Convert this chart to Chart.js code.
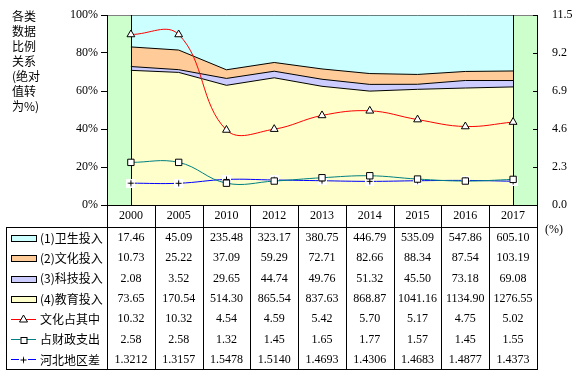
<!DOCTYPE html>
<html>
<head>
<meta charset="utf-8">
<script src="https://cdn.jsdelivr.net/npm/chart.js@4.4.0/dist/chart.umd.min.js"></script>
<style>
  html, body { margin: 0; padding: 0; background: #fff; }
  canvas { display: block; }
</style>
</head>
<body>
<canvas id="chart" width="577" height="376"></canvas>
<script>
const years = ['2000', '2005', '2010', '2012', '2013', '2014', '2015', '2016', '2017'];
const health = [17.46, 45.09, 235.48, 323.17, 380.75, 446.79, 535.09, 547.86, 605.10];
const culture = [10.73, 25.22, 37.09, 59.29, 72.71, 82.66, 88.34, 87.54, 103.19];
const tech = [2.08, 3.52, 29.65, 44.74, 49.76, 51.32, 45.50, 73.18, 69.08];
const education = [73.65, 170.54, 514.30, 865.54, 837.63, 868.87, 1041.16, 1134.90, 1276.55];
const cultureShare = [10.32, 10.32, 4.54, 4.59, 5.42, 5.70, 5.17, 4.75, 5.02];
const fiscalShare = [2.58, 2.58, 1.32, 1.45, 1.65, 1.77, 1.57, 1.45, 1.55];
const regionGap = [1.3212, 1.3157, 1.5478, 1.5140, 1.4693, 1.4306, 1.4683, 1.4877, 1.4373];
const leftTicks = [0, 20, 40, 60, 80, 100];
const rightTicks = [0, 2.3, 4.6, 6.9, 9.2, 11.5];
const titleLines = ['各类', '数据', '比例', '关系', '(绝对', '值转', '为%)'];

// stacked areas show each part as a share of the yearly total
const totals = years.map((_, i) => health[i] + culture[i] + tech[i] + education[i]);
const share = arr => arr.map((v, i) => v / totals[i] * 100);

const serif = '"Liberation Serif", "Times New Roman", serif';
const cjk = '"Noto Sans CJK SC", sans-serif';

function plusMarker() {
  const c = document.createElement('canvas');
  c.width = 9; c.height = 9;
  const g = c.getContext('2d');
  g.fillStyle = '#fff';
  g.fillRect(0, 0, 9, 9);
  g.strokeStyle = '#000';
  g.lineWidth = 1;
  g.beginPath();
  g.moveTo(4.5, 1.5); g.lineTo(4.5, 7.5);
  g.moveTo(1.5, 4.5); g.lineTo(7.5, 4.5);
  g.stroke();
  return c;
}
const plusImg = plusMarker();

const rows = [
  { label: '(1)卫生投入', values: health, digits: 2, kind: 'box', color: '#ccffff' },
  { label: '(2)文化投入', values: culture, digits: 2, kind: 'box', color: '#ffcc99' },
  { label: '(3)科技投入', values: tech, digits: 2, kind: 'box', color: '#ccccff' },
  { label: '(4)教育投入', values: education, digits: 2, kind: 'box', color: '#ffffcc' },
  { label: '文化占其中', values: cultureShare, digits: 2, kind: 'triangle', color: '#ff0000' },
  { label: '占财政支出', values: fiscalShare, digits: 2, kind: 'rect', color: '#008080' },
  { label: '河北地区差', values: regionGap, digits: 4, kind: 'plus', color: '#0000ff' }
];

function area(data, color, fill) {
  return {
    type: 'line', data: data, yAxisID: 'y', order: 1,
    backgroundColor: color, borderColor: '#000', borderWidth: 1,
    fill: fill, tension: 0, pointRadius: 0
  };
}
function trend(data, color, style, radius) {
  return {
    type: 'line', data: data, yAxisID: 'y1', order: 0,
    borderColor: color, borderWidth: 1, fill: false, tension: 0.4,
    pointStyle: style, pointRadius: radius,
    pointBackgroundColor: '#fff', pointBorderColor: '#000', pointBorderWidth: 1
  };
}

function hline(ctx, x1, x2, y) {
  ctx.beginPath(); ctx.moveTo(x1, Math.round(y) + 0.5); ctx.lineTo(x2, Math.round(y) + 0.5); ctx.stroke();
}
function vline(ctx, x, y1, y2) {
  ctx.beginPath(); ctx.moveTo(Math.round(x) + 0.5, y1); ctx.lineTo(Math.round(x) + 0.5, y2); ctx.stroke();
}

function drawMarker(ctx, kind, x, y) {
  ctx.fillStyle = '#fff';
  ctx.strokeStyle = '#000';
  ctx.lineWidth = 1;
  if (kind === 'triangle') {
    ctx.beginPath();
    ctx.moveTo(x, y - 4); ctx.lineTo(x + 4, y + 3); ctx.lineTo(x - 4, y + 3); ctx.closePath();
    ctx.fill(); ctx.stroke();
  } else if (kind === 'rect') {
    ctx.fillRect(x - 3, y - 3, 6, 6);
    ctx.strokeRect(x - 2.5, y - 2.5, 6, 6);
  } else if (kind === 'plus') {
    ctx.drawImage(plusImg, x - 4.5, y - 4.5);
  }
}

const tablePlugin = {
  id: 'tablePlugin',
  beforeDraw(chart) {
    const { ctx, chartArea: a } = chart;
    ctx.save();
    ctx.fillStyle = '#ccffcc';
    ctx.fillRect(a.left, a.top, a.right - a.left, a.bottom - a.top);
    ctx.strokeStyle = '#808080';
    ctx.lineWidth = 1;
    hline(ctx, a.left, a.right, a.top);
    ctx.restore();
  },
  afterDatasetDraw(chart, args) {
    if (args.index !== 0) return;
    const { ctx, chartArea: a, scales } = chart;
    ctx.save();
    ctx.strokeStyle = '#000';
    ctx.lineWidth = 1;
    vline(ctx, scales.x.getPixelForValue(0), a.top, a.bottom);
    vline(ctx, scales.x.getPixelForValue(years.length - 1), a.top, a.bottom);
    ctx.restore();
  },
  afterDraw(chart) {
    const { ctx, chartArea: a, scales } = chart;
    const colW = (a.right - a.left) / years.length;
    const headTop = a.bottom, headBottom = 227, tableBottom = 369, tableLeft = 6;
    ctx.save();
    ctx.strokeStyle = '#000';
    ctx.lineWidth = 1;

    // inside ticks on the right axis
    rightTicks.forEach(v => hline(ctx, a.right - 4, a.right, scales.y1.getPixelForValue(v)));

    // table grid
    hline(ctx, a.left, a.right + 1, headTop);
    hline(ctx, tableLeft, a.right + 1, headBottom);
    hline(ctx, tableLeft, a.right + 1, tableBottom);
    vline(ctx, tableLeft, headBottom, tableBottom + 1);
    for (let i = 0; i <= years.length; i++) {
      vline(ctx, a.left + i * colW, headTop, tableBottom + 1);
    }

    ctx.textAlign = 'center';
    ctx.textBaseline = 'middle';
    ctx.fillStyle = '#000';
    ctx.font = '12px ' + serif;
    years.forEach((y, i) => ctx.fillText(y, scales.x.getPixelForValue(i), 216));

    rows.forEach((row, r) => {
      const y = 238 + r * 20.33;
      ctx.font = '12px ' + serif;
      ctx.textAlign = 'center';
      ctx.fillStyle = '#000';
      row.values.forEach((v, i) => ctx.fillText(v.toFixed(row.digits), scales.x.getPixelForValue(i), y));

      if (row.kind === 'box') {
        ctx.fillStyle = row.color;
        ctx.fillRect(11, Math.round(y) - 3, 25, 6);
        ctx.strokeRect(11.5, Math.round(y) - 2.5, 25, 6);
      } else {
        ctx.strokeStyle = row.color;
        hline(ctx, 11, 36, y - 0.5);
        drawMarker(ctx, row.kind, 23.5, Math.round(y));
        ctx.strokeStyle = '#000';
      }
      ctx.fillStyle = '#000';
      ctx.textAlign = 'left';
      ctx.font = '12px ' + cjk;
      ctx.fillText(row.label, 40, y);
    });

    // axis captions
    ctx.textAlign = 'left';
    ctx.font = '12px ' + cjk;
    titleLines.forEach((t, i) => ctx.fillText(t, 12, 16 + i * 15));
    ctx.font = '12px ' + serif;
    ctx.fillText('(%)', 545, 230);
    ctx.restore();
  }
};

new Chart(document.getElementById('chart'), {
  data: {
    labels: years,
    datasets: [
      area(share(education), '#ffffcc', 'origin'),
      area(share(tech), '#ccccff', '-1'),
      area(share(culture), '#ffcc99', '-1'),
      area(share(health), '#ccffff', '-1'),
      trend(cultureShare, '#ff0000', 'triangle', 4.5),
      trend(fiscalShare, '#008080', 'rect', 4.5),
      trend(regionGap, '#0000ff', plusImg, 4.5)
    ]
  },
  options: {
    responsive: false,
    animation: false,
    layout: { padding: { top: 15, bottom: 171, left: 0, right: 0 } },
    plugins: { legend: { display: false }, tooltip: { enabled: false } },
    scales: {
      x: { type: 'category', offset: true, display: false },
      y: {
        stacked: true, min: 0, max: 100,
        afterFit(scale) { scale.width = 107; },
        afterBuildTicks(scale) { scale.ticks = leftTicks.map(v => ({ value: v })); },
        grid: { drawOnChartArea: false, color: '#000', tickLength: 6 },
        border: { display: true, color: '#000' },
        ticks: { padding: 3, color: '#000', font: { family: serif, size: 12 }, callback: v => v + '%' }
      },
      y1: {
        position: 'right', min: 0, max: 11.5,
        afterFit(scale) { scale.width = 40; },
        afterBuildTicks(scale) { scale.ticks = rightTicks.map(v => ({ value: v })); },
        grid: { display: false },
        border: { display: true, color: '#000' },
        ticks: { padding: 7, color: '#000', font: { family: serif, size: 12 }, callback: v => v.toFixed(1) }
      }
    }
  },
  plugins: [tablePlugin]
});
</script>
</body>
</html>
